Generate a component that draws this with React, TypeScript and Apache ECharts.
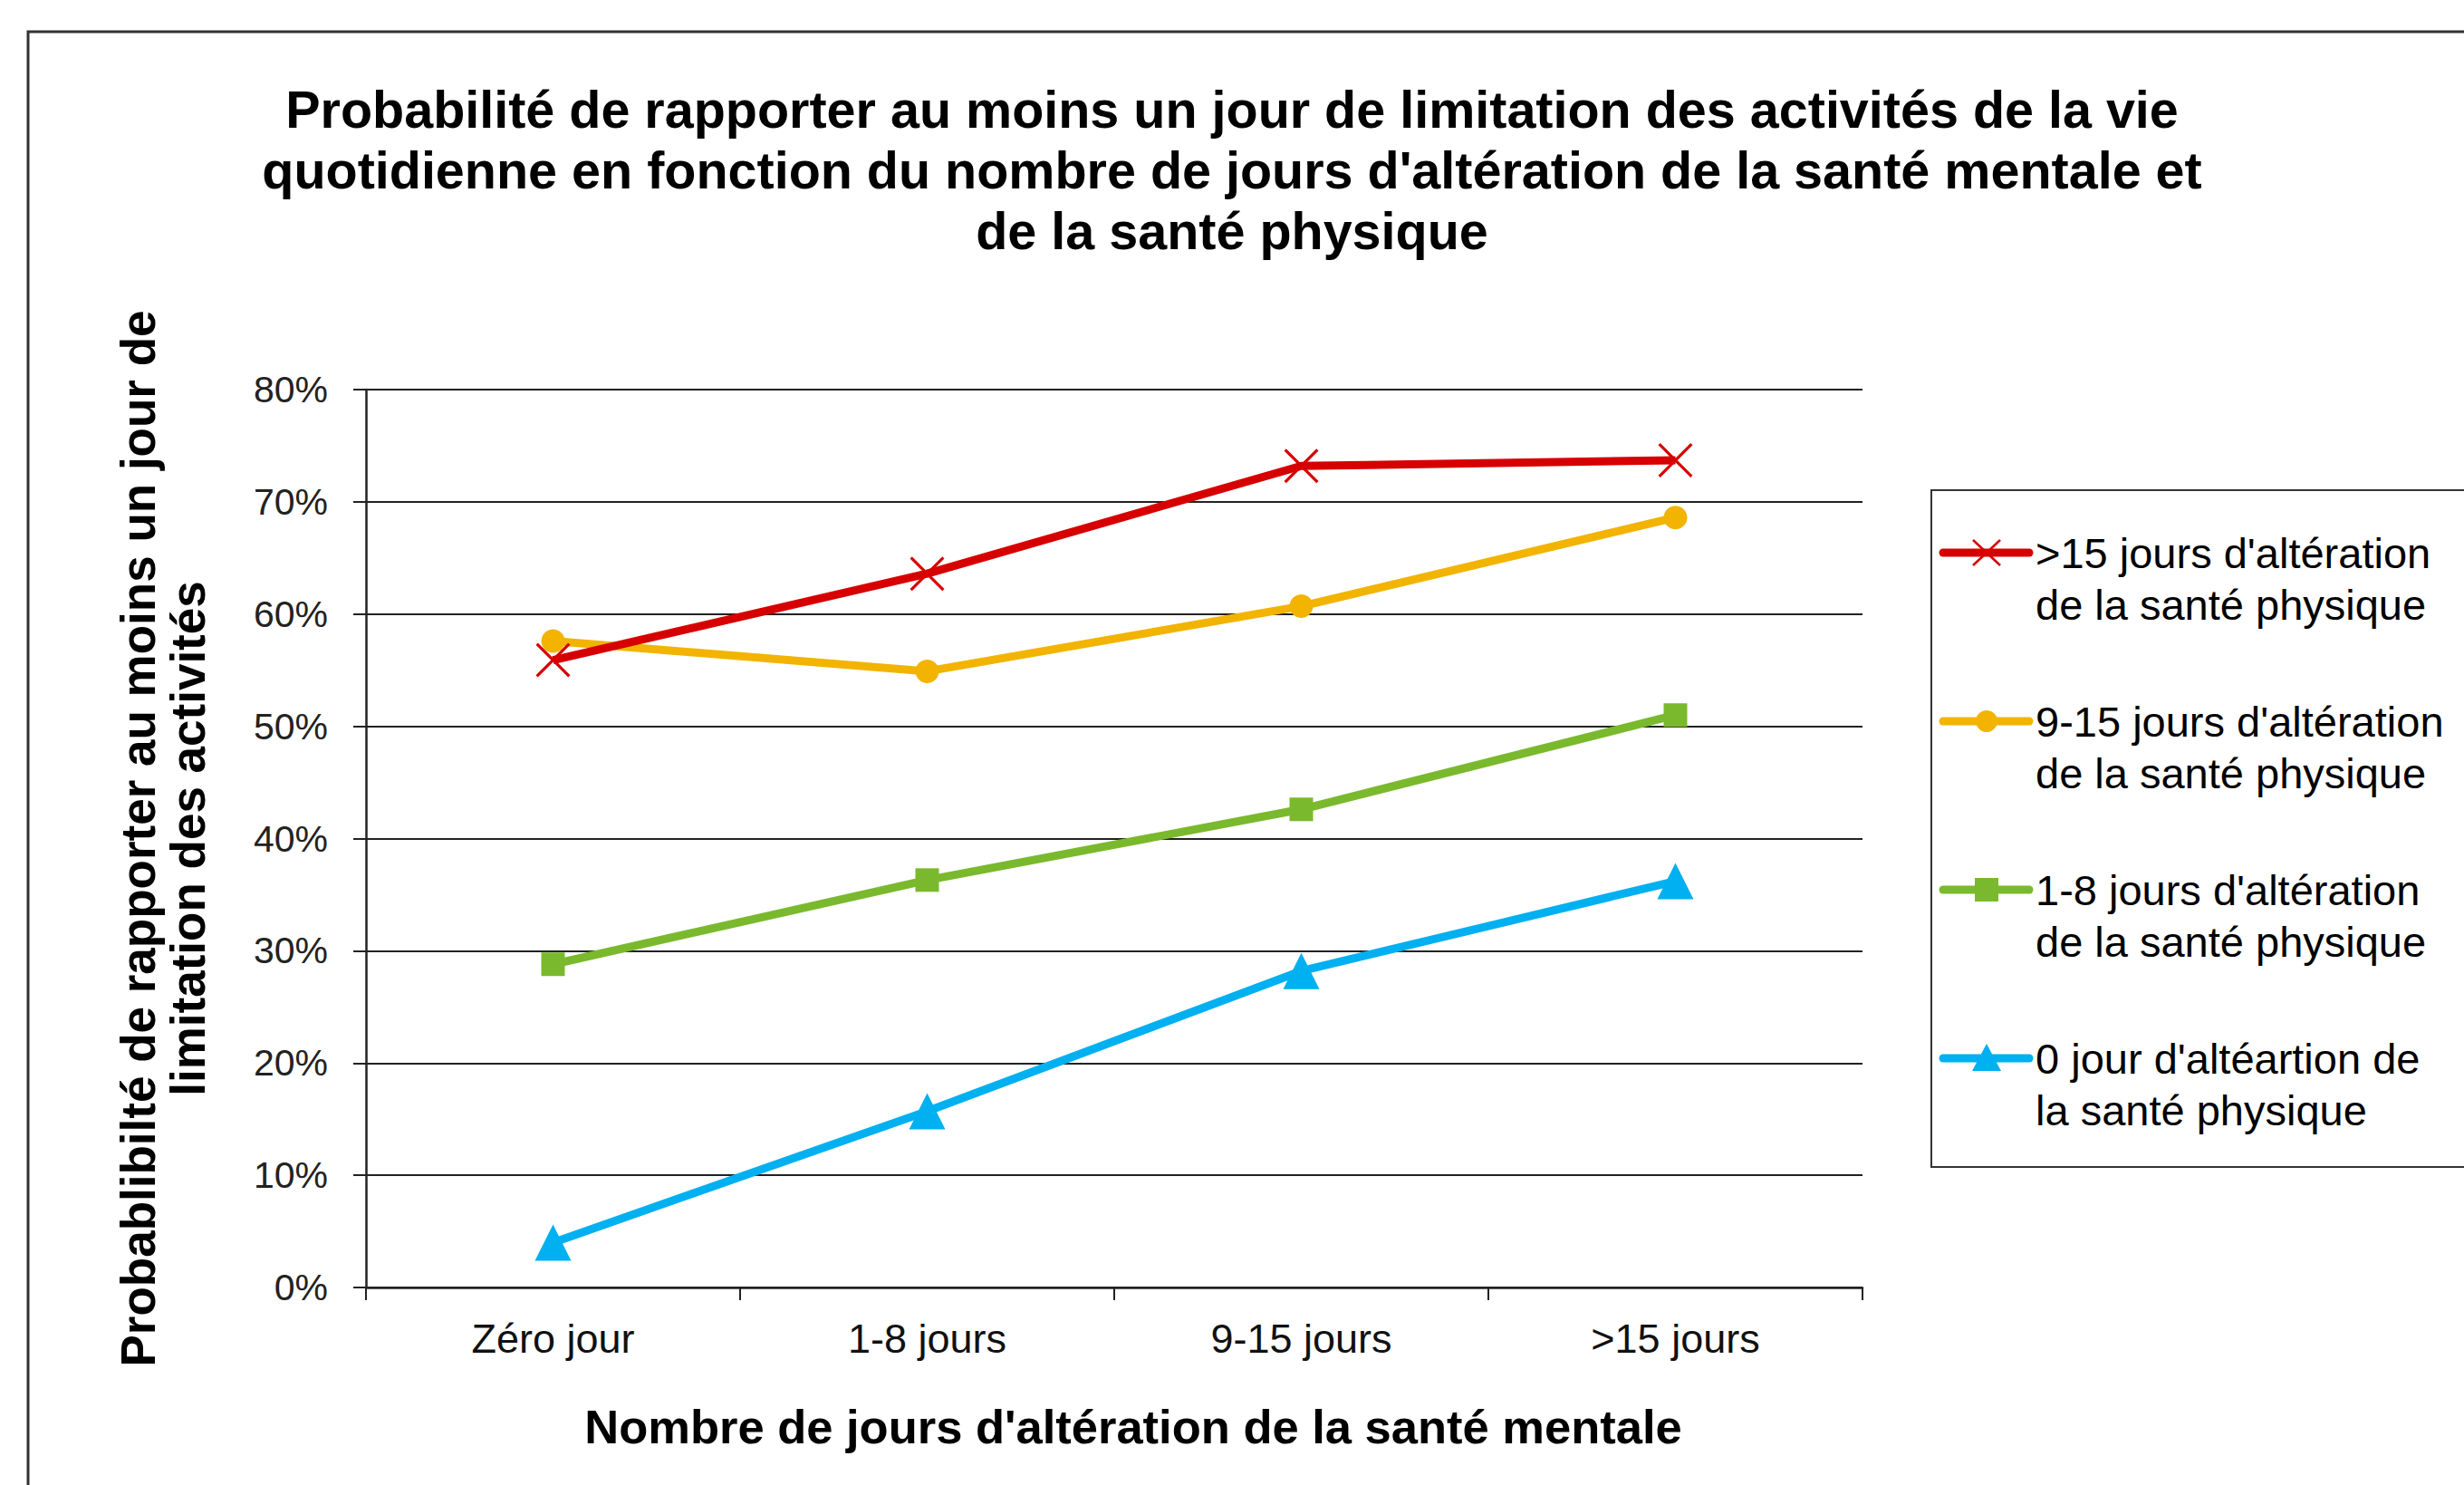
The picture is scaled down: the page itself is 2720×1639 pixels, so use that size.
import React, { useEffect, useRef } from "react";
import * as echarts from "echarts";

const categories = ["Zéro jour", "1-8 jours", "9-15 jours", ">15 jours"];
const seriesNames = [
  ">15 jours d'altération\nde la santé physique",
  "9-15 jours d'altération\nde la santé physique",
  "1-8 jours d'altération\nde la santé physique",
  "0 jour d'altéartion de\nla santé physique",
];
const red15 = [0.559, 0.636, 0.732, 0.737];
const yellow915 = [0.576, 0.549, 0.607, 0.686];
const green18 = [0.288, 0.363, 0.426, 0.51];
const blue0 = [0.04, 0.157, 0.282, 0.362];
const yTicks = [0, 0.1, 0.2, 0.3, 0.4, 0.5, 0.6, 0.7, 0.8];

const titleLines = [
  "Probabilité de rapporter au moins un jour de limitation des activités de la vie",
  "quotidienne en fonction du nombre de jours d'altération de la santé mentale et",
  "de la santé physique",
];
const xTitle = "Nombre de jours d'altération de la santé mentale";
const yTitle = "Probablibilté de rapporter au moins un jour de\nlimitation des activités";

const colors = ["#D70000", "#F2B400", "#7AB92D", "#00B0F0"];
const FONT = "'Liberation Sans', Arial, sans-serif";
const CROSS = "path://M0,6 L6,0 L100,94 L94,100 Z M94,0 L100,6 L6,100 L0,94 Z";

export default function App() {
  const ref = useRef<HTMLDivElement>(null);
  useEffect(() => {
    if (!ref.current) return;
    const chart = echarts.init(ref.current, null, { renderer: "svg" });
    const data = [red15, yellow915, green18, blue0];
    const symbols = [CROSS, "circle", "rect", "triangle"];
    const sizes = [38, 26, 26, 40];
    const series = data.map((d, i) => ({
      type: "line",
      name: seriesNames[i],
      data: d,
      symbol: symbols[i],
      symbolSize: sizes[i],
      z: 10 - i,
      lineStyle: { color: colors[i], width: 9 },
      itemStyle: { color: colors[i] },
    }));

    const legendEls: any[] = [
      {
        type: "rect",
        shape: { x: 2132, y: 541, width: 700, height: 747 },
        style: { fill: "none", stroke: "#333", lineWidth: 2 },
      },
    ];
    seriesNames.forEach((n, i) => {
      const y0 = 610 + 186 * i;
      const cx = 2193;
      legendEls.push({
        type: "line",
        shape: { x1: 2145, y1: y0, x2: 2240, y2: y0 },
        style: { stroke: colors[i], lineWidth: 9, lineCap: "round" },
      });
      if (i === 0) {
        legendEls.push({
          type: "line",
          shape: { x1: cx - 15, y1: y0 - 14, x2: cx + 15, y2: y0 + 14 },
          style: { stroke: colors[i], lineWidth: 2.5 },
        });
        legendEls.push({
          type: "line",
          shape: { x1: cx + 15, y1: y0 - 14, x2: cx - 15, y2: y0 + 14 },
          style: { stroke: colors[i], lineWidth: 2.5 },
        });
      } else if (i === 1) {
        legendEls.push({ type: "circle", shape: { cx, cy: y0, r: 12 }, style: { fill: colors[i] } });
      } else if (i === 2) {
        legendEls.push({ type: "rect", shape: { x: cx - 13, y: y0 - 13, width: 26, height: 26 }, style: { fill: colors[i] } });
      } else {
        legendEls.push({
          type: "polygon",
          shape: { points: [[cx, y0 - 16], [cx + 16, y0 + 14], [cx - 16, y0 + 14]] },
          style: { fill: colors[i] },
        });
      }
      legendEls.push({
        type: "text",
        x: 2247,
        y: y0 - 28.5,
        style: {
          text: n,
          font: `47px ${FONT}`,
          lineHeight: 57,
          fill: "#000",
          textAlign: "left",
          textVerticalAlign: "top",
        },
      });
    });

    const option: any = {
      animation: false,
      backgroundColor: "#fff",
      title: {
        text: titleLines.join("\n"),
        left: "center",
        top: 87,
        padding: 0,
        textStyle: { fontFamily: FONT, fontSize: 57.5, fontWeight: "bold", color: "#000", lineHeight: 67 },
      },
      grid: { left: 404, top: 430, width: 1652, height: 991, containLabel: false },
      xAxis: {
        type: "category",
        data: categories,
        boundaryGap: true,
        name: xTitle,
        nameLocation: "middle",
        nameGap: 125,
        nameTextStyle: { fontFamily: FONT, fontSize: 52.5, fontWeight: "bold", color: "#000", lineHeight: 57, padding: [0, 0, 0, 42] },
        axisLine: { lineStyle: { color: "#222", width: 2.5 } },
        axisTick: { show: true, length: 14, lineStyle: { color: "#222", width: 2 } },
        axisLabel: { margin: 34, fontFamily: FONT, fontSize: 45, color: "#111" },
      },
      yAxis: {
        type: "value",
        min: 0,
        max: 0.8,
        interval: 0.1,
        name: yTitle,
        nameLocation: "middle",
        nameRotate: 90,
        nameGap: 169,
        nameTextStyle: { fontFamily: FONT, fontSize: 53, fontWeight: "bold", color: "#000", lineHeight: 55 },
        axisLine: { show: true, lineStyle: { color: "#222", width: 2.5 } },
        axisTick: { show: true, length: 14, lineStyle: { color: "#222", width: 2 } },
        splitLine: { show: true, lineStyle: { color: "#222", width: 2 } },
        axisLabel: {
          margin: 42,
          fontFamily: FONT,
          fontSize: 41,
          color: "#222",
          formatter: (v: number) => {
            const t = yTicks.find((x) => Math.abs(x - v) < 1e-6);
            return Math.round((t ?? v) * 100) + "%";
          },
        },
      },
      graphic: [
        {
          type: "rect",
          shape: { x: 31, y: 35, width: 2800, height: 1700 },
          style: { fill: "none", stroke: "#333", lineWidth: 3 },
          silent: true,
        },
        ...legendEls,
      ],
      series,
    };
    chart.setOption(option);
    return () => chart.dispose();
  }, []);
  return (
    <div
      ref={ref}
      style={{ position: "fixed", left: 0, top: 0, width: 2720, height: 1639, background: "#fff" }}
    />
  );
}
